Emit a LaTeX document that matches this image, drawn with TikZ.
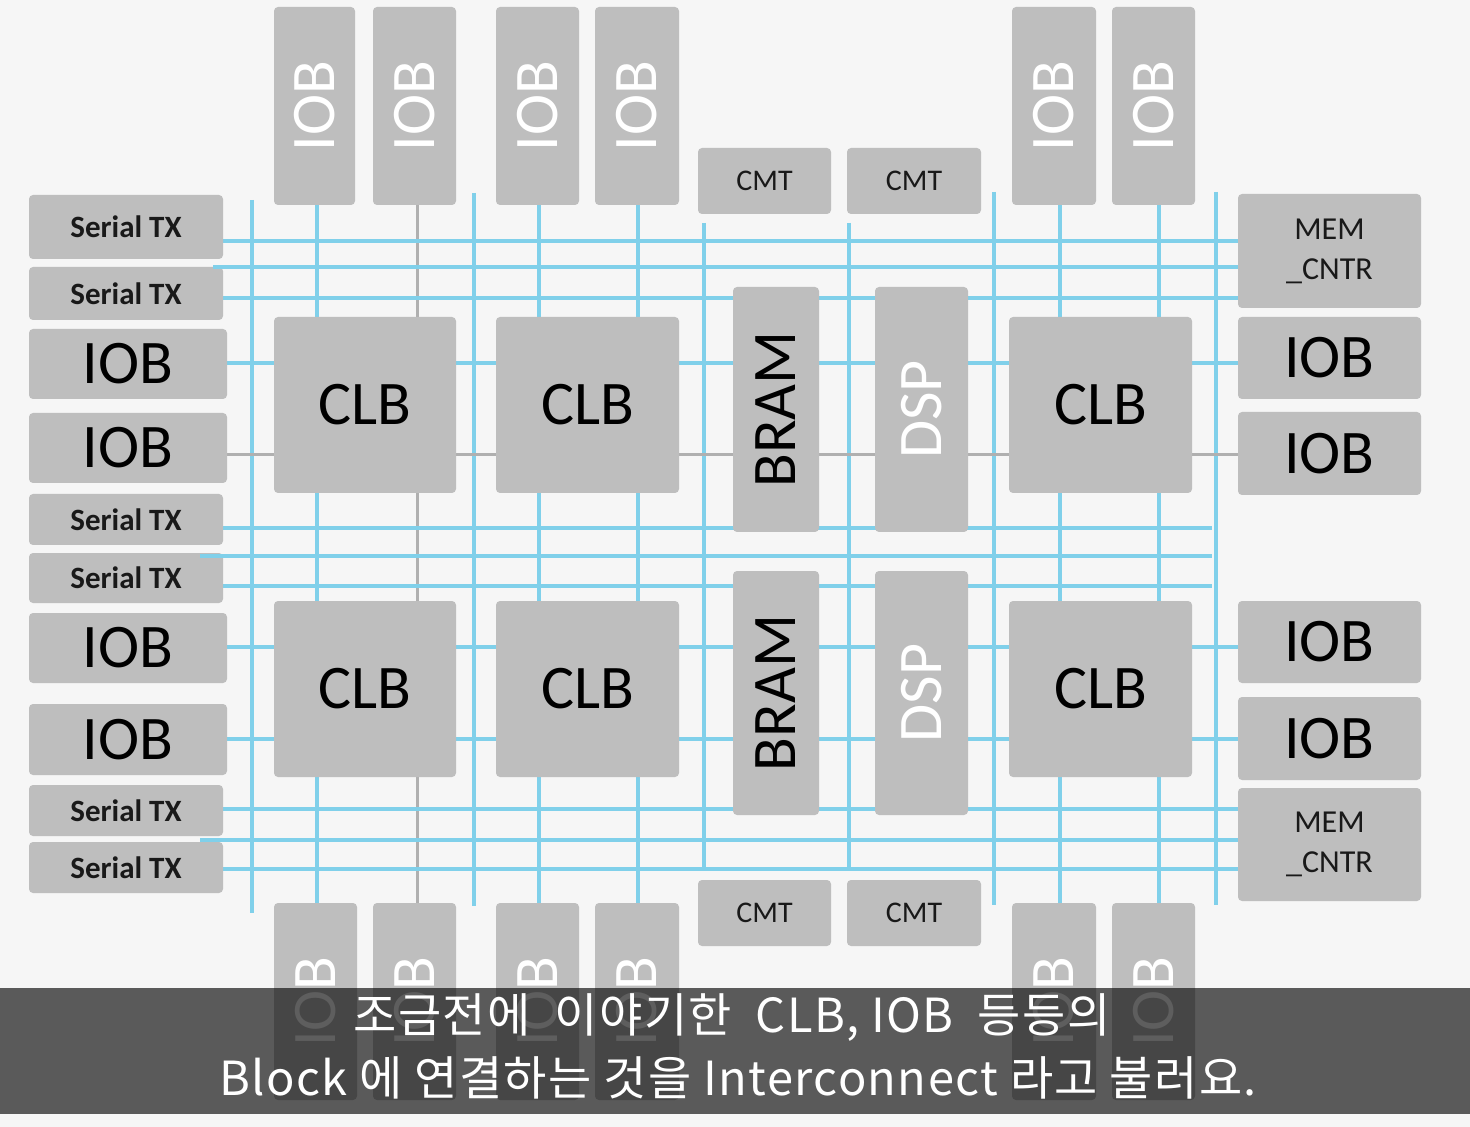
\documentclass[tikz,border=0pt]{standalone}
\usepackage{fontspec}
\setmainfont{Carlito}
\newfontfamily\krfont[LetterSpace=3]{Noto Sans CJK KR}
\usetikzlibrary{fit}
\definecolor{bgcol}{RGB}{246,246,246}
\definecolor{boxgray}{RGB}{190,190,190}
\definecolor{wireblue}{RGB}{128,208,234}
\definecolor{wiregray}{RGB}{176,176,176}
\tikzset{
  box/.style={fill=boxgray, draw=none, rounded corners=2pt, inner sep=0pt, outer sep=0pt},
  big/.style={font=\fontsize{31}{37}\selectfont, inner sep=0pt, text=black},
  vbig/.style={big, rotate=90},
  vbigw/.style={big, rotate=90, text=white},
  ser/.style={font=\fontsize{15.5}{18}\selectfont\bfseries, inner sep=0pt, text=black!90},
  cmt/.style={font=\fontsize{15}{18}\selectfont, inner sep=0pt, text=black!90},
  mem/.style={font=\fontsize{16}{20}\selectfont, inner sep=0pt, align=center, text=black!90},
  wire/.style={draw=wireblue, line width=1.8pt},
  gwire/.style={draw=wiregray, line width=1.5pt},
  sub/.style={font=\krfont\fontsize{23.5}{28}\selectfont, text=white, inner sep=0pt}
}
\newcommand\blk[7]{\node[box, fit={(#2,#3) (#4,#5)}] (#1) {};
  \node[#6] (#1t) at (#1.center) {#7};}
\begin{document}
\begin{tikzpicture}[x=0.5pt,y=-0.5pt]
\useasboundingbox (0,0) rectangle (1470,1127);
\fill[bgcol] (0,0) rectangle (1470,1127);

% vertical wires
\draw[wire] (252,200) -- (252,913);
\draw[wire] (317,205) -- (317,903);
\draw[gwire] (417,205) -- (417,903);
\draw[wire] (474,193) -- (474,906);
\draw[wire] (539,205) -- (539,903);
\draw[wire] (638,205) -- (638,903);
\draw[wire] (704,223) -- (704,869);
\draw[wire] (849,223) -- (849,870);
\draw[wire] (994,192) -- (994,905);
\draw[wire] (1060,205) -- (1060,903);
\draw[wire] (1159,205) -- (1159,903);
\draw[wire] (1216,192) -- (1216,905);

% horizontal wires
\draw[wire] (223,241) -- (1238,241);
\draw[wire] (223,298) -- (1238,298);
\draw[wire] (227,363) -- (1238,363);
\draw[gwire] (227,455) -- (1238,455);
\draw[wire] (223,528) -- (1212,528);
\draw[wire] (223,586) -- (1212,586);
\draw[wire] (227,647) -- (1238,647);
\draw[wire] (227,739) -- (1238,739);
\draw[wire] (223,809) -- (1238,809);
\draw[wire] (223,869) -- (1238,869);

% left column
\blk{s1}{29}{195}{223}{259}{ser}{Serial TX}
\blk{s2}{29}{267}{223}{320}{ser}{Serial TX}
\blk{l1}{29}{329}{227}{399}{big}{IOB}
\blk{l2}{29}{413}{227}{483}{big}{IOB}
\blk{s3}{29}{494}{223}{545}{ser}{Serial TX}
\blk{s4}{29}{553}{223}{603}{ser}{Serial TX}
\blk{l3}{29}{613}{227}{683}{big}{IOB}
\blk{l4}{29}{704}{227}{775}{big}{IOB}
\blk{s5}{29}{785}{223}{836}{ser}{Serial TX}
\blk{s6}{29}{842}{223}{893}{ser}{Serial TX}

% right column
\blk{m1}{1238}{194}{1421}{308}{mem}{MEM\\\_CNTR}
\blk{r1}{1238}{317}{1421}{399}{big}{IOB}
\blk{r2}{1238}{412}{1421}{495}{big}{IOB}
\blk{r3}{1238}{601}{1421}{683}{big}{IOB}
\blk{r4}{1238}{697}{1421}{780}{big}{IOB}
\blk{m2}{1238}{788}{1421}{901}{mem}{MEM\\\_CNTR}

% CLBs
\blk{c1}{274}{317}{456}{493}{big}{CLB}
\blk{c2}{496}{317}{679}{493}{big}{CLB}
\blk{c3}{1009}{317}{1192}{493}{big}{CLB}
\blk{c4}{274}{601}{456}{777}{big}{CLB}
\blk{c5}{496}{601}{679}{777}{big}{CLB}
\blk{c6}{1009}{601}{1192}{777}{big}{CLB}

% BRAM / DSP
\blk{br1}{733}{287}{819}{532}{vbig}{BRAM}
\blk{br2}{733}{571}{819}{815}{vbig}{BRAM}
\blk{d1}{875}{287}{968}{532}{vbigw}{DSP}
\blk{d2}{875}{571}{968}{815}{vbigw}{DSP}

% CMTs
\blk{ct1}{698}{148}{831}{214}{cmt}{CMT}
\blk{ct2}{847}{148}{981}{214}{cmt}{CMT}
\blk{cb1}{698}{880}{831}{946}{cmt}{CMT}
\blk{cb2}{847}{880}{981}{946}{cmt}{CMT}

% top IOBs
\blk{t1}{274}{7}{355}{205}{vbigw}{IOB}
\blk{t2}{373}{7}{456}{205}{vbigw}{IOB}
\blk{t3}{496}{7}{579}{205}{vbigw}{IOB}
\blk{t4}{595}{7}{679}{205}{vbigw}{IOB}
\blk{t5}{1012}{7}{1096}{205}{vbigw}{IOB}
\blk{t6}{1112}{7}{1195}{205}{vbigw}{IOB}

% bottom IOBs
\blk{b1}{274}{903}{357}{1100}{vbigw}{IOB}
\blk{b2}{373}{903}{456}{1100}{vbigw}{IOB}
\blk{b3}{496}{903}{579}{1100}{vbigw}{IOB}
\blk{b4}{595}{903}{679}{1100}{vbigw}{IOB}
\blk{b5}{1012}{903}{1096}{1100}{vbigw}{IOB}
\blk{b6}{1112}{903}{1195}{1100}{vbigw}{IOB}

% wires drawn over the serial TX edges
\draw[wire] (213,267) -- (1238,267);
\draw[wire] (200,556) -- (1212,556);
\draw[wire] (200,840) -- (1238,840);

% subtitle band
\fill[black, opacity=0.63] (0,988) rectangle (1470,1114);
\node[sub] (sub1) at (732,1018) {조금전에\hspace{6pt} 이야기한\hspace{6pt} CLB, IOB\hspace{6pt} 등등의};
\node[sub] (sub2) at (738,1078) {Block 에 연결하는 것을 Interconnect 라고 불러요.};
\end{tikzpicture}
\end{document}
